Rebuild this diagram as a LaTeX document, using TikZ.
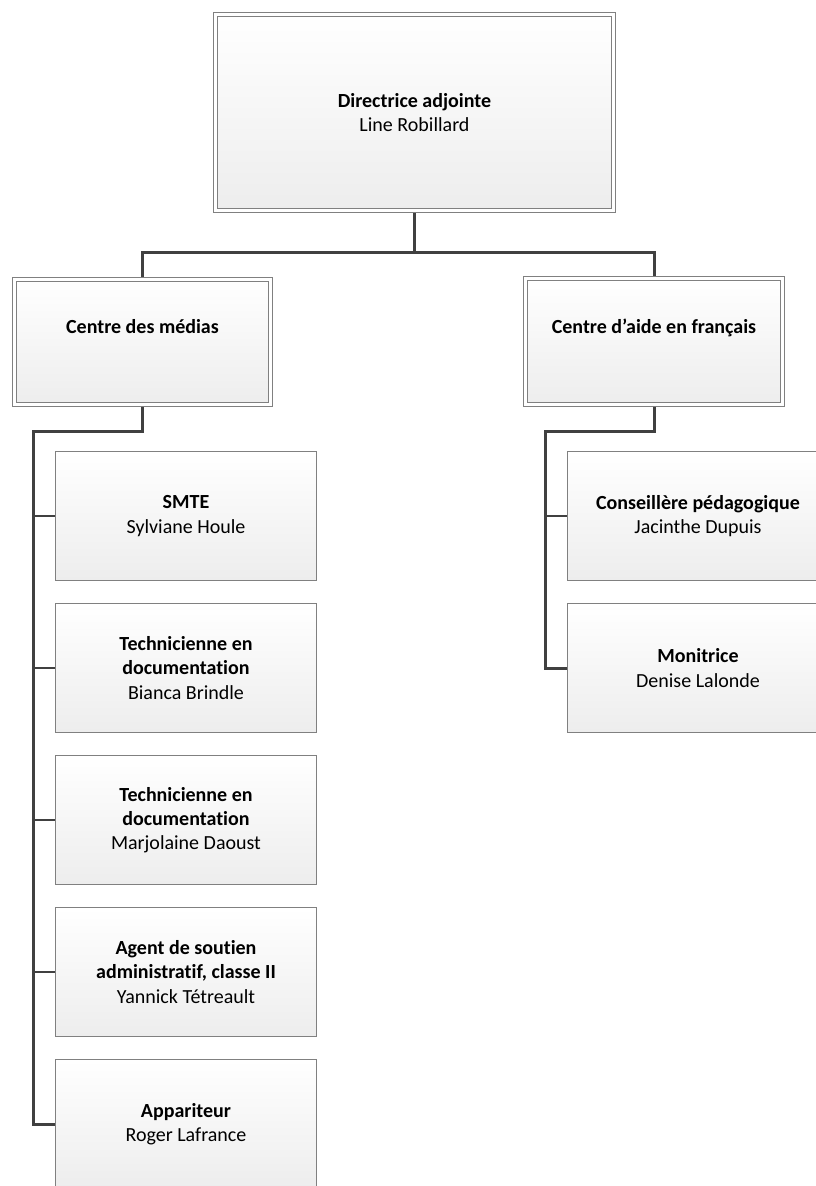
\documentclass[tikz,border=0pt]{standalone}
\usepackage{fontspec}
\setmainfont{Carlito}[Ligatures=NoCommon]
\usetikzlibrary{backgrounds}
\definecolor{boxline}{HTML}{808080}
\definecolor{boxbottom}{HTML}{EDEDED}
\definecolor{conn}{HTML}{404040}
\tikzset{
  headbox/.style={draw=boxline, line width=0.9pt, double=white, double distance=3pt,
    top color=white, bottom color=boxbottom, inner sep=0pt, outer sep=0pt,
    align=center, font=\fontsize{20}{24}\selectfont},
  staffbox/.style={draw=boxline, line width=1pt, top color=white, bottom color=boxbottom,
    minimum width=261pt, minimum height=129pt, inner sep=0pt, outer sep=0pt,
    align=center, font=\fontsize{20}{24.2}\selectfont},
  spine/.style={draw=conn, line width=3pt},
  tick/.style={draw=conn, line width=2pt},
}
\begin{document}
\begin{tikzpicture}[x=1pt, y=-1pt]
\useasboundingbox (0,0) rectangle (816,1186);
\clip (0,0) rectangle (816,1186);
% head boxes
\node[headbox, minimum width=398pt, minimum height=196pt] (top) at (414.5,112.5)
  {\textbf{Directrice adjointe}\\Line Robillard};
\node[headbox, minimum width=256pt, minimum height=125pt] (cm) at (142.5,342)
  {\textbf{Centre des médias}\\[-1pt]\strut};
\node[headbox, minimum width=257pt, minimum height=126pt] (caf) at (654,341.5)
  {\textbf{Centre d’aide en français}\\[-1pt]\strut};
% left staff
\node[staffbox] (c1) at (186,516) {\textbf{SMTE}\\Sylviane Houle};
\node[staffbox] (c2) at (186,668) {\textbf{Technicienne en}\\\textbf{documentation}\\Bianca Brindle};
\node[staffbox] (c3) at (186,820) {\textbf{Technicienne en}\\\textbf{documentation}\\Marjolaine Daoust};
\node[staffbox] (c4) at (186,972) {\textbf{Agent de soutien}\\\textbf{administratif, classe II}\\Yannick Tétreault};
\node[staffbox] (c5) at (186,1124) {\textbf{Appariteur}\\Roger Lafrance};
% right staff
\node[staffbox] (r1) at (698,516) {\textbf{Conseillère pédagogique}\\Jacinthe Dupuis};
\node[staffbox] (r2) at (698,668) {\textbf{Monitrice}\\Denise Lalonde};
% connectors
\coordinate (j0) at (414.5,252);
\coordinate (ls) at (33,431);
\coordinate (rs) at (545,431);
\begin{scope}[on background layer]
\draw[spine] (top.south) -- (j0) -| (cm.north);
\draw[spine] (j0) -| (caf.north);
\draw[spine] (cm.south) |- (ls) -- (ls |- c5.west) -- (c5.west);
\draw[tick] (ls |- c1.west) -- (c1.west);
\draw[tick] (ls |- c2.west) -- (c2.west);
\draw[tick] (ls |- c3.west) -- (c3.west);
\draw[tick] (ls |- c4.west) -- (c4.west);
\draw[spine] (caf.south) |- (rs) -- (rs |- r2.west) -- (r2.west);
\draw[tick] (rs |- r1.west) -- (r1.west);
\end{scope}
\end{tikzpicture}
\end{document}
